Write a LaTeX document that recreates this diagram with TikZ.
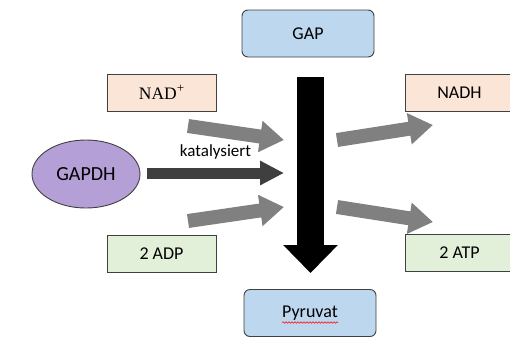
\documentclass[tikz,border=0pt]{standalone}
\usepackage{fontspec}
\setmainfont{Carlito}
\newfontfamily\serifnad{Liberation Serif}
\usetikzlibrary{arrows.meta,shapes.geometric,decorations.pathmorphing}
\definecolor{boxblue}{HTML}{BDD7EE}
\definecolor{boxpeach}{HTML}{FBE5D6}
\definecolor{boxgreen}{HTML}{E2F0D9}
\definecolor{enzyme}{HTML}{B4A0D6}
\definecolor{edge}{HTML}{404040}
\definecolor{grayarrow}{HTML}{808080}
\definecolor{darkarrow}{HTML}{3F3F3F}
\tikzset{
  metab/.style={draw=edge, line width=0.9pt, rounded corners=6pt, fill=boxblue, minimum width=132pt, minimum height=47pt, font=\fontsize{18}{20}\selectfont, inner sep=0pt},
  cofac/.style={draw=edge, line width=0.9pt, minimum width=109pt, minimum height=37pt, font=\fontsize{18}{20}\selectfont, inner sep=0pt},
  grayarr/.style={draw=grayarrow, line width=14pt, -{Triangle[width=30pt,length=24pt]}},
}
\begin{document}
\begin{tikzpicture}[x=1pt,y=-1pt]
\useasboundingbox (0,0) rectangle (510,338);
% nodes
\node[metab] (gap) at (308,33.5) {GAP};
\node[metab] (pyr) at (310,313) {Pyruvat};
\node[cofac, fill=boxpeach, font=\serifnad\fontsize{17.5}{19}\selectfont] (nad) at (161.5,92.5) {NAD\raisebox{0.42em}{\fontsize{13}{13}\selectfont +}};
\node[cofac, fill=boxpeach] (nadh) at (459.5,92.5) {NADH};
\node[cofac, fill=boxgreen] (adp) at (161.5,253.5) {2 ADP};
\node[cofac, fill=boxgreen] (atp) at (459.5,252.5) {2 ATP};
\node[ellipse, draw=edge, line width=0.9pt, fill=enzyme, inner sep=0pt, minimum width=108pt, minimum height=68pt, font=\fontsize{20}{22}\selectfont] (gapdh) at (86,174) {GAPDH};
% coordinates
\coordinate (bs) at (310.5,77);
\coordinate (be) at (310.5,273);
\coordinate (ks) at (147,173);
\coordinate (ke) at (284,173);
\coordinate (a1s) at (188,126);
\coordinate (a1e) at (284,140);
\coordinate (a2s) at (188,221);
\coordinate (a2e) at (284,207);
\coordinate (a3s) at (337,140);
\coordinate (a3e) at (433,125);
\coordinate (a4s) at (337,207);
\coordinate (a4e) at (433,222);
% arrows
\draw[line width=27pt, -{Triangle[width=53pt,length=28pt]}] (bs) -- (be);
\draw[darkarrow, line width=11pt, -{Triangle[width=23pt,length=24pt]}] (ks) -- node[above=5pt, text=black, font=\fontsize{17}{19}\selectfont] (kat) {katalysiert} (ke);
\draw[grayarr, grayarrow] (a1s) -- (a1e);
\draw[grayarr, grayarrow] (a2s) -- (a2e);
\draw[grayarr, grayarrow] (a3s) -- (a3e);
\draw[grayarr, grayarrow] (a4s) -- (a4e);
% spell-check squiggle
\coordinate (sq1) at ([xshift=-28pt,yshift=-9.5pt]pyr.center);
\coordinate (sq2) at ([xshift=28pt,yshift=-9.5pt]pyr.center);
\draw[red, line width=0.5pt, decorate, decoration={snake, amplitude=0.8pt, segment length=3pt}] (sq1) -- (sq2);
\end{tikzpicture}
\end{document}
